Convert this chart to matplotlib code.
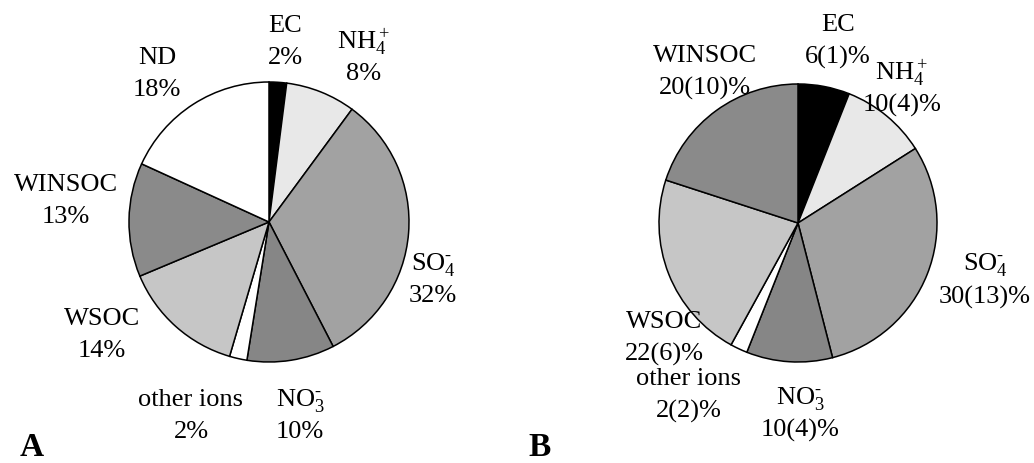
import matplotlib
matplotlib.use("Agg")
import matplotlib.pyplot as plt

plt.rcParams['font.family'] = ['Liberation Serif', 'DejaVu Serif']
plt.rcParams['mathtext.fontset'] = 'custom'
plt.rcParams['mathtext.rm'] = 'Liberation Serif'
plt.rcParams['mathtext.default'] = 'regular'

# Data
labels_a = ["EC", "NH$_4^+$", r"SO$_4^{\text{-}}$", r"NO$_3^{\text{-}}$", "other ions", "WSOC", "WINSOC", "ND"]
values_a = [2, 8, 32, 10, 2, 14, 13, 18]
pct_a = ["2%", "8%", "32%", "10%", "2%", "14%", "13%", "18%"]

labels_b = ["EC", "NH$_4^+$", r"SO$_4^{\text{-}}$", r"NO$_3^{\text{-}}$", "other ions", "WSOC", "WINSOC"]
values_b = [6, 10, 30, 10, 2, 22, 20]
pct_b = ["6(1)%", "10(4)%", "30(13)%", "10(4)%", "2(2)%", "22(6)%", "20(10)%"]

palette = ["#000000", "#e8e8e8", "#a2a2a2", "#868686", "#ffffff", "#c6c6c6", "#8a8a8a", "#ffffff"]

W, H = 1034, 463
fig = plt.figure(figsize=(W / 100, H / 100), dpi=100)
ax = fig.add_axes([0, 0, 1, 1])

def py(y):
    return H - y

wp = dict(edgecolor='black', linewidth=1.1)
ax.pie(values_a, colors=palette[:len(values_a)], startangle=90, counterclock=False,
       center=(269, py(222)), radius=140, wedgeprops=wp, frame=True)
ax.pie(values_b, colors=palette[:len(values_b)], startangle=90, counterclock=False,
       center=(798, py(223)), radius=139, wedgeprops=wp, frame=True)
ax.set_xlim(0, W)
ax.set_ylim(0, H)
ax.set_aspect('equal')
ax.axis('off')

fs = 19
pos_a = [(285, 26), (364, 42), (433, 264), (300, 400), (191, 400), (102, 319), (66, 185), (157, 58)]
pos_b = [(838, 25), (902, 73), (985, 265), (800, 398), (689, 379), (664, 322), (705, 56)]

def put(labels, pcts, pos):
    for lab, p, (x, y) in zip(labels, pcts, pos):
        ax.text(x, py(y), lab, ha='center', va='center', fontsize=fs)
        ax.text(x, py(y + 32), p, ha='center', va='center', fontsize=fs)

put(labels_a, pct_a, pos_a)
put(labels_b, pct_b, pos_b)

ax.text(32, py(448), "A", ha='center', va='center', fontsize=24, fontweight='bold')
ax.text(540, py(448), "B", ha='center', va='center', fontsize=24, fontweight='bold')

fig.savefig("out.png", dpi=100)
